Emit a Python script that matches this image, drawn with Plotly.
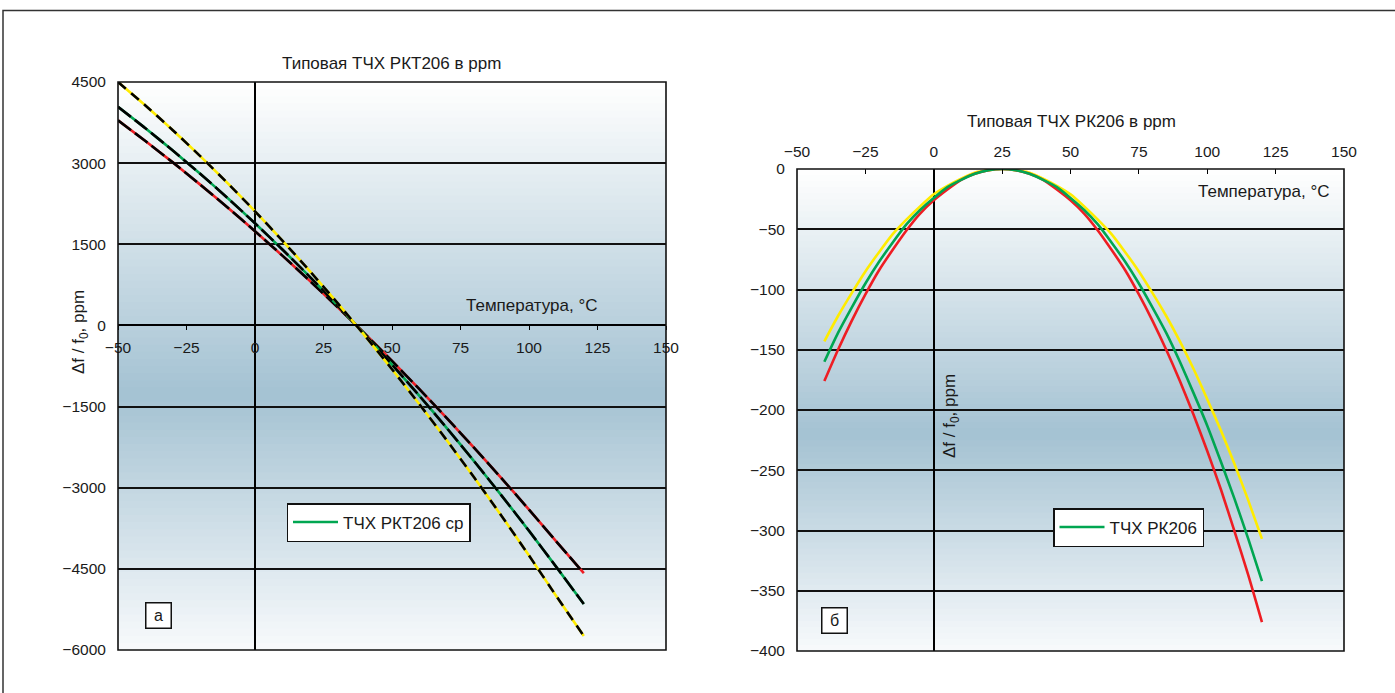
import plotly.graph_objects as go

# ---------------- data ----------------
temp_a = [-50, -40, -30, -20, -10, 0, 10, 20, 30, 40, 50, 60, 70, 80, 90, 100, 110, 120]
rkt_yellow = [4500, 4066, 3609, 3130, 2630, 2110, 1567, 1005, 421, -184, -810, -1457, -2124, -2813, -3523, -4254, -5006, -5740]
rkt_green = [4040, 3645, 3233, 2803, 2355, 1888, 1403, 899, 376, -164, -724, -1301, -1898, -2512, -3146, -3797, -4468, -5150]
rkt_red = [3790, 3409, 3014, 2603, 2180, 1741, 1290, 824, 345, -150, -657, -1179, -1714, -2264, -2827, -3405, -3996, -4580]

temp_b = [-40, -35, -30, -25, -20, -15, -10, -5, 0, 5, 10, 15, 20, 25, 30, 35, 40,
          45, 50, 55, 60, 65, 70, 75, 80, 85, 90, 95, 100, 105, 110, 115, 120]
rk_yellow = [-143, -122, -103, -85, -69, -54, -42, -31, -21, -14, -8, -3, -1, 0, -1, -3, -8,
             -14, -21, -31, -42, -54, -69, -85, -103, -122, -143, -166, -191, -217, -245, -275, -307]
rk_green = [-160, -136, -115, -95, -77, -61, -46, -34, -24, -15, -9, -4, -1, 0, -1, -4, -9,
            -15, -24, -34, -46, -61, -77, -95, -115, -136, -160, -186, -213, -243, -274, -307, -342]
rk_red = [-176, -150, -126, -104, -84, -67, -51, -37, -26, -17, -9, -4, -1, 0, -1, -4, -9,
          -17, -26, -37, -51, -67, -84, -104, -126, -150, -176, -204, -234, -266, -301, -337, -376]

x_ticks = [-50, -25, 0, 25, 50, 75, 100, 125, 150]
ya_ticks = [-6000, -4500, -3000, -1500, 0, 1500, 3000, 4500]
yb_ticks = [-400, -350, -300, -250, -200, -150, -100, -50, 0]

title_a = "Типовая ТЧХ РКТ206 в ppm"
title_b = "Типовая ТЧХ РК206 в ppm"
legend_a = "ТЧХ РКТ206 ср"
legend_b = "ТЧХ РК206"
xlabel = "Температура, °С"
ylabel = "Δf / f<sub>0</sub>, ppm"

# ---------------- layout geometry (pixels) ----------------
W, H = 1395, 693
def px(x):
    return x / W
def py(y):
    return 1 - y / H

A_X = [px(118), px(666)]
A_Y = [py(650), py(82)]
B_X = [px(797), px(1344)]
B_Y = [py(651), py(169)]

YELLOW = "#FFEC00"
GREEN = "#00A651"
RED = "#EE1D23"
FONT = "Liberation Sans, Arial, sans-serif"
TXT = "#1a1a1a"

fig = go.Figure()

# left chart: coloured line with black dashes over it
for vals, col, dash, name, show in [
    (rkt_red, RED, "16px,5px", "red", False),
    (rkt_green, GREEN, "16px,5px", legend_a, True),
    (rkt_yellow, YELLOW, "10px,7px", "yellow", False),
]:
    fig.add_trace(go.Scatter(x=temp_a, y=vals, mode="lines", name=name,
                             line=dict(color=col, width=2.6, shape="spline", smoothing=0.6),
                             showlegend=show, legend="legend", xaxis="x", yaxis="y",
                             hoverinfo="skip"))
    fig.add_trace(go.Scatter(x=temp_a, y=vals, mode="lines", name=name + " dash",
                             line=dict(color="black", width=2.6, dash=dash, shape="spline", smoothing=0.6),
                             showlegend=False, xaxis="x", yaxis="y", hoverinfo="skip"))

# right chart
for vals, col, name, show in [
    (rk_yellow, YELLOW, "yellow", False),
    (rk_red, RED, "red", False),
    (rk_green, GREEN, legend_b, True),
]:
    fig.add_trace(go.Scatter(x=temp_b, y=vals, mode="lines", name=name,
                             line=dict(color=col, width=2.6, shape="spline", smoothing=0.6),
                             showlegend=show, legend="legend2", xaxis="x2", yaxis="y2",
                             hoverinfo="skip"))

# ---------------- gradient backgrounds ----------------
def grad_color(t):
    top = (255, 255, 255)
    mid = (164, 194, 210)
    bot = (248, 250, 252)
    tm = 0.55
    if t <= tm:
        f = t / tm
        a, b = top, mid
    else:
        f = (t - tm) / (1 - tm)
        a, b = mid, bot
    c = [round(a[i] + (b[i] - a[i]) * f) for i in range(3)]
    return "rgb(%d,%d,%d)" % tuple(c)

shapes = []
N = 80
for xr, yr in [("x", "y"), ("x2", "y2")]:
    for i in range(N):
        t = (i + 0.5) / N
        y1 = 1 - i / N
        y0 = 1 - (i + 1) / N - 0.002
        shapes.append(dict(type="rect", xref=xr + " domain", yref=yr + " domain",
                           x0=0, x1=1, y0=max(y0, 0), y1=y1, fillcolor=grad_color(t),
                           line=dict(width=0), layer="below"))
    shapes.append(dict(type="rect", xref=xr + " domain", yref=yr + " domain",
                       x0=0, x1=1, y0=0, y1=1, line=dict(color="#111", width=1.6),
                       fillcolor="rgba(0,0,0,0)", layer="above"))

# outer frame
shapes.append(dict(type="rect", xref="paper", yref="paper", x0=px(3), x1=1.05,
                   y0=-0.05, y1=py(10.5), line=dict(color="#333", width=1.5),
                   fillcolor="rgba(0,0,0,0)", layer="below"))

# position of left x axis at y = 0
pos_a = A_Y[0] + (0 - ya_ticks[0]) / (ya_ticks[-1] - ya_ticks[0]) * (A_Y[1] - A_Y[0])

tickfont = dict(family=FONT, size=15.5, color=TXT)

fig.update_layout(
    width=W, height=H,
    margin=dict(l=0, r=0, t=0, b=0, pad=0, autoexpand=False),
    paper_bgcolor="white", plot_bgcolor="white",
    shapes=shapes,
    xaxis=dict(domain=A_X, range=[-50, 150], anchor="free", position=pos_a,
               tickvals=x_ticks, ticks="outside", ticklen=4, tickcolor="black", tickwidth=1.2,
               showgrid=False, zeroline=True, zerolinecolor="black", zerolinewidth=1.5,
               showline=True, linecolor="black", linewidth=1.5, tickfont=tickfont,
               ticklabelstandoff=4, fixedrange=True, automargin=False),
    yaxis=dict(domain=A_Y, range=[-6000, 4500], tickvals=ya_ticks,
               showgrid=True, gridcolor="#111", gridwidth=1.5, zeroline=False,
               ticks="outside", ticklen=8, tickcolor="rgba(0,0,0,0)", tickfont=tickfont,
               showline=False, fixedrange=True, automargin=False),
    xaxis2=dict(domain=B_X, range=[-50, 150], anchor="y2", side="top",
                tickvals=x_ticks, ticks="inside", ticklen=5, tickcolor="black", tickwidth=1.2,
                showgrid=False, zeroline=True, zerolinecolor="black", zerolinewidth=1.5,
                showline=False, tickfont=tickfont, ticklabelstandoff=8, fixedrange=True,
                automargin=False),
    yaxis2=dict(domain=B_Y, range=[-400, 0], tickvals=yb_ticks, anchor="x2",
                showgrid=True, gridcolor="#111", gridwidth=1.5, zeroline=False,
                ticks="outside", ticklen=8, tickcolor="rgba(0,0,0,0)", tickfont=tickfont,
                showline=False, fixedrange=True, automargin=False),
    legend=dict(x=px(286.5), y=py(503), xanchor="left", yanchor="top",
                bgcolor="white", bordercolor="#111", borderwidth=1.5, itemwidth=45,
                font=dict(family=FONT, size=17, color=TXT)),
    legend2=dict(x=px(1053), y=py(508), xanchor="left", yanchor="top",
                 bgcolor="white", bordercolor="#111", borderwidth=1.5, itemwidth=45,
                 font=dict(family=FONT, size=17, color=TXT)),
    showlegend=True,
)

def note(text, x, y, size=17, xanchor="center", **kw):
    return dict(text=text, x=px(x), y=py(y), xref="paper", yref="paper",
                xanchor=xanchor, yanchor="middle", showarrow=False,
                font=dict(family=FONT, size=size, color=TXT), **kw)

ann = [
    note(title_a, 391, 63),
    note(title_b, 1071, 121),
    note(xlabel, 531, 306),
    note(xlabel, 1331, 191, xanchor="right"),
    note(ylabel, 80, 332, size=17, textangle=-90),
    note(ylabel, 951, 416, size=17, textangle=-90),
    note("а", 158.5, 615.5, size=16, width=22, height=22, bgcolor="white",
         bordercolor="#111", borderwidth=1.5),
    note("б", 834, 620, size=16, width=22, height=22, bgcolor="white",
         bordercolor="#111", borderwidth=1.5),
]
fig.update_layout(annotations=ann)

fig.write_html("out.html", config={"displayModeBar": False},
               post_script="document.body.style.margin='0';document.body.style.padding='0';")
